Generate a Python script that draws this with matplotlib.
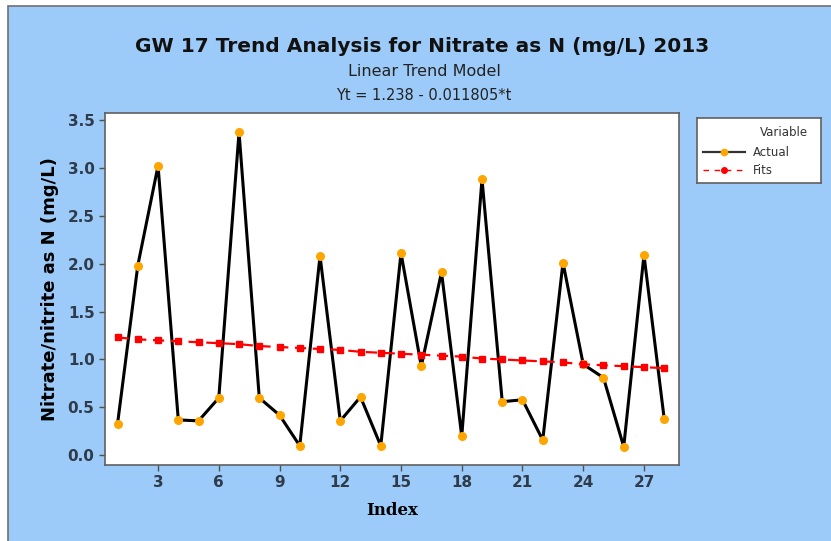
import numpy as np
import matplotlib
matplotlib.use("Agg")
from matplotlib import pyplot as plt
from matplotlib.patches import Rectangle
from matplotlib.lines import Line2D

# values
index = list(range(1, 29))
actual = [0.33, 1.98, 3.02, 0.37, 0.36, 0.60, 3.37, 0.60, 0.42, 0.10,
          2.08, 0.36, 0.61, 0.10, 2.11, 0.93, 1.91, 0.20, 2.88, 0.56,
          0.58, 0.16, 2.01, 0.95, 0.81, 0.09, 2.09, 0.38]
fits = [1.23, 1.21, 1.20, 1.19, 1.18, 1.17, 1.16, 1.14, 1.13, 1.12,
        1.11, 1.10, 1.08, 1.07, 1.06, 1.05, 1.04, 1.03, 1.01, 1.00,
        0.99, 0.98, 0.97, 0.95, 0.94, 0.93, 0.92, 0.91]
xticks = [3, 6, 9, 12, 15, 18, 21, 24, 27]
yticks = [0.0, 0.5, 1.0, 1.5, 2.0, 2.5, 3.0, 3.5]

bg = '#9DCBF9'
tick_col = '#2F3B4A'

fig = plt.figure(figsize=(8.31, 5.41), dpi=100)
fig.patch.set_facecolor('white')

# light blue panel with thin grey border (like the original graph window)
panel = Rectangle((8 / 831, -0.01), 1.0, 1 - 6 / 541 + 0.01, transform=fig.transFigure,
                  facecolor=bg, edgecolor='#707070', linewidth=1.2, zorder=-10)
fig.patches.append(panel)

ax = fig.add_axes([105 / 831, 76 / 541, 574 / 831, 352 / 541])
ax.set_facecolor('white')

# actual series
ax.plot(index, actual, color='black', linewidth=2.2, marker='o', markersize=5.5,
        markerfacecolor='#FFA500', markeredgecolor='#FFA500', zorder=3)
# fitted trend
ax.plot(index, fits, color='red', linewidth=1.6, linestyle=(0, (5, 3)), marker='s',
        markersize=4.5, markerfacecolor='red', markeredgecolor='red', zorder=4)

ax.set_xlim(0.38, 28.73)
ax.set_ylim(-0.10, 3.57)
ax.set_xticks(xticks)
ax.set_yticks(yticks)
ax.set_yticklabels([f'{v:.1f}' for v in yticks])
ax.tick_params(axis='both', direction='out', length=4, width=1, colors='#505050',
               labelcolor=tick_col, labelsize=11)
for lbl in ax.get_xticklabels() + ax.get_yticklabels():
    lbl.set_fontweight('bold')
for s in ax.spines.values():
    s.set_color('#606060')
    s.set_linewidth(1.2)

ax.set_xlabel('Index', fontsize=12, fontweight='bold', color='black',
              family='DejaVu Serif', labelpad=8)
ax.set_ylabel('Nitrate/nitrite as N (mg/L)', fontsize=13, fontweight='bold',
              color='black', labelpad=6)

# titles
fig.text(422 / 831, 1 - 46 / 541, 'GW 17 Trend Analysis for Nitrate as N (mg/L) 2013',
         ha='center', va='center', fontsize=14.5, fontweight='bold', color='#111111')
fig.text(424 / 831, 1 - 71 / 541, 'Linear Trend Model', ha='center', va='center',
         fontsize=11.5, color='#222222')
fig.text(424 / 831, 1 - 95 / 541, 'Yt = 1.238 - 0.011805*t', ha='center', va='center',
         fontsize=10.5, color='#222222')

# legend box, drawn by hand to match the original layout
lax = fig.add_axes([697 / 831, 1 - 183 / 541, 124 / 831, 65 / 541])
lax.set_xlim(0, 124)
lax.set_ylim(65, 0)
lax.set_xticks([])
lax.set_yticks([])
lax.set_facecolor('white')
for s in lax.spines.values():
    s.set_color('#606060')
    s.set_linewidth(1.2)
lax.text(111, 14, 'Variable', ha='right', va='center', fontsize=8.5, color='#333333')
lax.add_line(Line2D([6, 48], [34, 34], color='#333333', linewidth=1.6))
lax.plot([27], [34], marker='o', markersize=4.5, color='#FFA500')
lax.text(56, 34, 'Actual', ha='left', va='center', fontsize=8.5, color='#333333')
lax.add_line(Line2D([6, 48], [52, 52], color='red', linewidth=1.0, linestyle=(0, (4, 4))))
lax.plot([27], [52], marker='o', markersize=4, color='red')
lax.text(56, 52, 'Fits', ha='left', va='center', fontsize=8.5, color='#333333')

fig.savefig('out.png', dpi=100, facecolor=fig.get_facecolor())
